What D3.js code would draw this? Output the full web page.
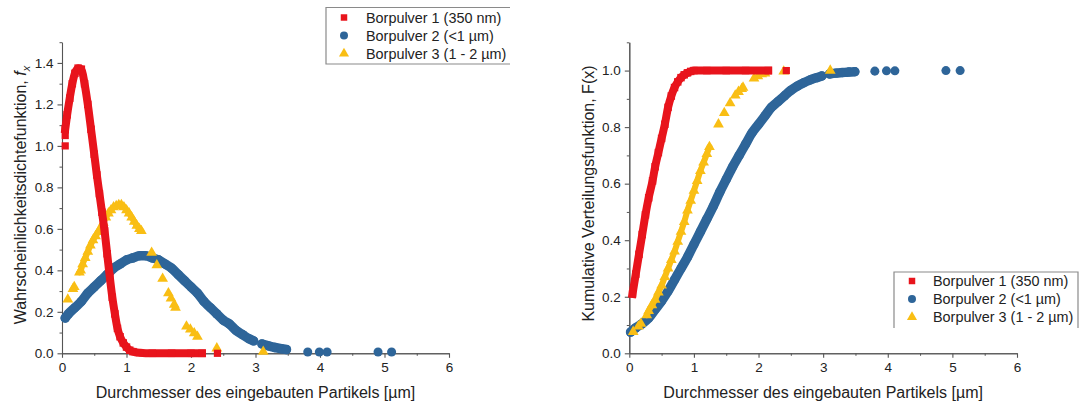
<!DOCTYPE html>
<html>
<head>
<meta charset="utf-8">
<script src="https://cdn.jsdelivr.net/npm/d3@7"></script>
<style>
  html, body { margin: 0; padding: 0; background: #ffffff; }
  svg { display: block; font-family: "Liberation Sans", Arial, sans-serif; }
</style>
</head>
<body>
<svg id="chart" width="1089" height="407"></svg>
<script>
// ---------- data ----------
const xTickValues = [0, 1, 2, 3, 4, 5, 6];
const pdfTickValues = [0.0, 0.2, 0.4, 0.6, 0.8, 1.0, 1.2, 1.4];
const cdfTickValues = [0.0, 0.2, 0.4, 0.6, 0.8, 1.0];
const seriesNames = ["Borpulver 1 (350 nm)", "Borpulver 2 (<1 µm)", "Borpulver 3 (1 - 2 µm)"];

// Probability density f_x
const pdfRedCurve = [[0.05,1.08],[0.08,1.15],[0.12,1.23],[0.16,1.30],[0.20,1.35],[0.25,1.375],[0.30,1.37],[0.35,1.30],[0.40,1.20],[0.45,1.08],[0.50,0.96],[0.54,0.86],[0.58,0.77],[0.62,0.68],[0.66,0.59],[0.70,0.48],[0.74,0.37],[0.78,0.27],[0.82,0.19],[0.86,0.12],[0.90,0.08],[0.95,0.05],[1.00,0.03],[1.05,0.015],[1.10,0.008],[1.20,0.003],[1.40,0.0],[1.70,0.0],[2.00,0.0],[2.17,0.0]];
const pdfRedIso = [[0.05,1.05],[0.05,1.00],[2.41,0.0]];

const pdfBlueCurveA = [[0.05,0.17],[0.10,0.19],[0.20,0.22],[0.30,0.25],[0.40,0.29],[0.50,0.32],[0.60,0.35],[0.70,0.38],[0.80,0.41],[0.90,0.43],[1.00,0.45],[1.10,0.46],[1.20,0.47],[1.30,0.47],[1.40,0.46],[1.50,0.45],[1.60,0.43],[1.70,0.41],[1.80,0.38],[1.90,0.35],[2.00,0.32],[2.10,0.29],[2.20,0.25],[2.30,0.22],[2.40,0.19],[2.50,0.16],[2.60,0.14],[2.70,0.11],[2.80,0.09],[2.90,0.07],[2.97,0.06]];
const pdfBlueCurveB = [[3.10,0.045],[3.20,0.036],[3.30,0.028],[3.40,0.022],[3.48,0.018]];
const pdfBlueIso = [[3.81,0.006],[3.99,0.006],[4.11,0.006],[4.90,0.006],[5.11,0.006]];

const pdfYellowCurve = [[0.27,0.39],[0.29,0.40],[0.32,0.43],[0.36,0.46],[0.40,0.49],[0.44,0.52],[0.48,0.545],[0.52,0.565],[0.56,0.585],[0.60,0.605],[0.64,0.63],[0.68,0.655],[0.72,0.675],[0.76,0.69],[0.80,0.705],[0.84,0.71],[0.88,0.715],[0.92,0.715],[0.96,0.705],[1.00,0.69],[1.04,0.675],[1.08,0.655],[1.12,0.635],[1.16,0.615],[1.20,0.60],[1.23,0.59]];
const pdfYellowIso = [[0.09,0.26],[0.17,0.31],[0.19,0.32],[1.39,0.485],[1.47,0.425],[1.56,0.36],[1.65,0.29],[1.69,0.265],[1.74,0.235],[1.76,0.22],[1.93,0.13],[1.99,0.115],[2.05,0.097],[2.10,0.08],[2.40,0.024],[3.12,0.008]];

// Cumulative distribution F(x)
const cdfRedCurve = [[0.05,0.21],[0.10,0.28],[0.15,0.35],[0.20,0.42],[0.25,0.49],[0.30,0.55],[0.36,0.61],[0.40,0.66],[0.45,0.71],[0.50,0.76],[0.55,0.81],[0.60,0.87],[0.65,0.91],[0.70,0.94],[0.75,0.96],[0.80,0.975],[0.85,0.985],[0.90,0.992],[0.95,0.997],[1.00,1.0],[1.20,1.0],[1.50,1.0],[1.80,1.0],[2.15,1.0]];
const cdfRedIso = [[2.43,1.0]];

const cdfBlueCurveA = [[0.02,0.075],[0.10,0.09],[0.20,0.105],[0.30,0.125],[0.40,0.155],[0.50,0.185],[0.60,0.22],[0.70,0.26],[0.80,0.30],[0.90,0.34],[1.00,0.385],[1.10,0.43],[1.20,0.475],[1.30,0.52],[1.40,0.57],[1.50,0.615],[1.60,0.66],[1.70,0.70],[1.80,0.74],[1.90,0.78],[2.00,0.81],[2.10,0.84],[2.20,0.87],[2.30,0.89],[2.40,0.91],[2.50,0.93],[2.60,0.945],[2.70,0.957],[2.80,0.967],[2.90,0.975],[2.98,0.981]];
const cdfBlueCurveB = [[3.10,0.988],[3.20,0.991],[3.30,0.993],[3.40,0.995],[3.49,0.996]];
const cdfBlueIso = [[3.80,0.998],[3.98,0.999],[4.11,0.999],[4.90,1.0],[5.12,1.0]];

const cdfYellowCurve = [[0.27,0.135],[0.30,0.15],[0.35,0.17],[0.40,0.19],[0.45,0.215],[0.50,0.24],[0.55,0.27],[0.60,0.30],[0.65,0.33],[0.70,0.36],[0.75,0.395],[0.80,0.43],[0.85,0.465],[0.90,0.505],[0.95,0.54],[1.00,0.575],[1.05,0.61],[1.10,0.645],[1.15,0.675],[1.20,0.705],[1.24,0.73]];
const cdfYellowIso = [[0.06,0.076],[0.14,0.095],[0.18,0.105],[1.38,0.81],[1.47,0.85],[1.56,0.885],[1.64,0.912],[1.69,0.925],[1.74,0.935],[1.76,0.94],[1.93,0.972],[1.99,0.98],[2.05,0.987],[2.10,0.99],[2.39,0.997],[3.11,1.0]];

// ---------- styles ----------
const RED = "#e8141c", BLUE = "#2e6599", YELLOW = "#f9be14";
const AXIS = "#555555", TEXT = "#222222";

const svg = d3.select("#chart");

function drawPanel(cfg) {
  const x = d3.scaleLinear().domain([0, 6]).range([cfg.x0, cfg.x1]);
  const y = d3.scaleLinear().domain([0, cfg.yMax]).range([353.3, cfg.yTop]);
  const g = svg.append("g");

  // minor ticks
  const xMinor = d3.range(0, 6.01, 0.5).filter(v => Math.abs(v - Math.round(v)) > 0.01);
  const yMinor = d3.range(0, cfg.yMax + 0.001, 0.1).filter(v => Math.abs(v * 5 - Math.round(v * 5)) > 0.01);

  g.append("g").attr("transform", `translate(0,${y(0)})`)
    .call(d3.axisBottom(x).tickValues(xMinor).tickSize(2.5).tickSizeOuter(0).tickFormat(""))
    .call(a => a.selectAll("line,path").attr("stroke", AXIS));
  g.append("g").attr("transform", `translate(${x(0)},0)`)
    .call(d3.axisLeft(y).tickValues(yMinor).tickSize(2.5).tickSizeOuter(0).tickFormat(""))
    .call(a => a.selectAll("line,path").attr("stroke", AXIS));

  const xa = g.append("g").attr("transform", `translate(0,${y(0)})`)
    .call(d3.axisBottom(x).tickValues(xTickValues).tickSize(4.5).tickSizeOuter(0).tickPadding(5).tickFormat(d3.format("d")));
  const ya = g.append("g").attr("transform", `translate(${x(0)},0)`)
    .call(d3.axisLeft(y).tickValues(cfg.yTicks).tickSize(4.5).tickSizeOuter(0).tickPadding(4).tickFormat(d3.format(".1f")));
  [xa, ya].forEach(a => {
    a.selectAll("line,path").attr("stroke", AXIS).attr("stroke-width", 1.1);
    a.selectAll("text").attr("fill", TEXT).style("font-size", "13.5px").style("font-family", "'Liberation Sans', Arial, sans-serif");
  });

  // x axis title
  g.append("text").attr("x", (cfg.x0 + cfg.x1) / 2).attr("y", 397.5)
    .attr("text-anchor", "middle").attr("fill", TEXT).style("font-size", "16px")
    .text("Durchmesser des eingebauten Partikels [µm]");

  // y axis title
  const yt = g.append("text")
    .attr("transform", `translate(${cfg.yTitleX},${cfg.yTitleY}) rotate(-90)`)
    .attr("text-anchor", "middle").attr("fill", TEXT).style("font-size", "16px");
  cfg.yTitle(yt);

  // series
  const line = d3.line().x(d => x(d[0])).y(d => y(d[1])).curve(d3.curveMonotoneX);
  const plot = g.append("g");

  function band(data, color, width, cap) {
    plot.append("path").datum(data).attr("d", line)
      .attr("fill", "none").attr("stroke", color).attr("stroke-width", width)
      .attr("stroke-linecap", cap).attr("stroke-linejoin", "round");
  }
  function marks(data, color, type, size) {
    const sym = d3.symbol().type(type).size(size);
    plot.selectAll(null).data(data).enter().append("path")
      .attr("d", sym).attr("transform", d => `translate(${x(d[0])},${y(d[1])})`)
      .attr("fill", color);
  }

  // order: blue, yellow, red on top
  cfg.blue.curves.forEach(c => { band(c, BLUE, 9.5, "round"); marks(c, BLUE, d3.symbolCircle, 68); });
  marks(cfg.blue.iso, BLUE, d3.symbolCircle, 64);

  band(cfg.yellow.curve, YELLOW, 6, "round");
  marks(cfg.yellow.curve, YELLOW, d3.symbolTriangle, 50);
  marks(cfg.yellow.iso, YELLOW, d3.symbolTriangle, 50);

  band(cfg.red.curve, RED, 8, "square");
  marks(cfg.red.curve, RED, d3.symbolSquare, 56);
  marks(cfg.red.iso, RED, d3.symbolSquare, 52);

  // legend
  const L = cfg.legend;
  const lg = g.append("g");
  const bx0 = L.x, bx1 = L.x + L.w, by0 = L.y, by1 = L.y + L.h;
  lg.append("path")
    .attr("d", L.sides === "open-right"
      ? `M${bx1},${by0}H${bx0}V${by1}H${bx1}`
      : `M${bx0},${by1}V${by0}H${bx1}V${by1}`)
    .attr("fill", "none").attr("stroke", "#8a8a8a").attr("stroke-width", 1.2);
  const symTypes = [d3.symbolSquare, d3.symbolCircle, d3.symbolTriangle];
  const symSizes = [42, 50, 44];
  const colors = [RED, BLUE, YELLOW];
  seriesNames.forEach((name, i) => {
    const cy = L.rowY + i * 18;
    lg.append("path").attr("d", d3.symbol().type(symTypes[i]).size(symSizes[i]))
      .attr("transform", `translate(${L.symX},${cy})`).attr("fill", colors[i]);
    lg.append("text").attr("x", L.textX).attr("y", cy + 5.2)
      .attr("fill", TEXT).style("font-size", "14.4px").text(name);
  });
}

drawPanel({
  x0: 62, x1: 449, yMax: 1.5, yTop: 42.2, yTicks: pdfTickValues,
  yTitleX: 25.5, yTitleY: 195,
  yTitle: t => {
    t.append("tspan").text("Wahrscheinlichkeitsdichtefunktion, ");
    t.append("tspan").style("font-style", "italic").text("f");
    t.append("tspan").style("font-style", "italic").style("font-size", "11px").attr("dy", 4).text("x");
  },
  red: { curve: pdfRedCurve, iso: pdfRedIso },
  blue: { curves: [pdfBlueCurveA, pdfBlueCurveB], iso: pdfBlueIso },
  yellow: { curve: pdfYellowCurve, iso: pdfYellowIso },
  legend: { x: 326, y: 7.5, w: 184, h: 56.5, symX: 344, textX: 366, rowY: 17.5, sides: "open-right" }
});

drawPanel({
  x0: 629.3, x1: 1017, yMax: 1.1, yTop: 42.3, yTicks: cdfTickValues,
  yTitleX: 594, yTitleY: 193.5,
  yTitle: t => { t.text("Kumulative Verteilungsfunktion, F(x)"); },
  red: { curve: cdfRedCurve, iso: cdfRedIso },
  blue: { curves: [cdfBlueCurveA, cdfBlueCurveB], iso: cdfBlueIso },
  yellow: { curve: cdfYellowCurve, iso: cdfYellowIso },
  legend: { x: 894, y: 272, w: 184, h: 56, symX: 912, textX: 933, rowY: 281, sides: "open-bottom" }
});
</script>
</body>
</html>
